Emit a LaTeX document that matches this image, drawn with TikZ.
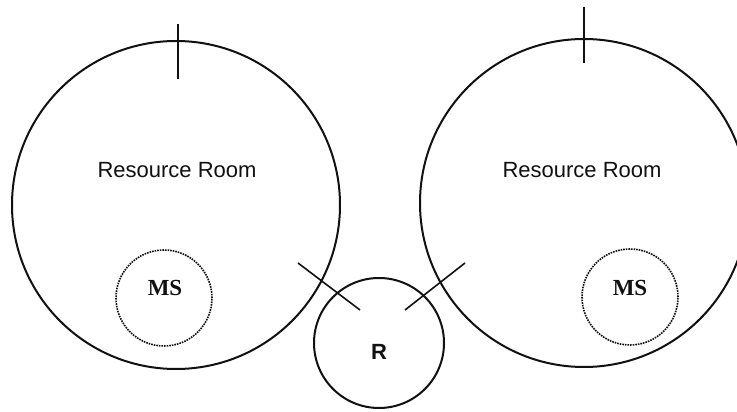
\documentclass[tikz,border=0pt]{standalone}
\usepackage{fontspec}
\setmainfont{Liberation Serif}
\setsansfont{Liberation Sans}
\usepackage{xcolor}
\definecolor{ink}{HTML}{111111}

\tikzset{
  roomcircle/.style={circle,draw=ink,line width=2pt,minimum size=328pt,inner sep=0pt},
  mscircle/.style={circle,draw=ink,line width=1.6pt,densely dotted,minimum size=96pt,inner sep=0pt},
  rcircle/.style={circle,draw=ink,line width=2pt,minimum size=130pt,inner sep=0pt},
  roomtext/.style={ink,font=\sffamily\fontsize{22}{26}\selectfont},
  mstext/.style={ink,font=\rmfamily\bfseries\fontsize{23}{27}\selectfont},
  rtext/.style={ink,font=\sffamily\bfseries\fontsize{22}{26}\selectfont},
  doormark/.style={ink,line width=1.6pt}
}

\begin{document}
\begin{tikzpicture}[x=1pt,y=1pt]
  % Frame (picture size)
  \clip (0,0) rectangle (737,412);
  \fill[white] (0,0) rectangle (737,412);

  % Left resource room
  \node[roomcircle] (roomL) at (176,207) {};
  \node[roomtext] (roomLtext) at (177,242) {Resource Room};
  \node[mscircle] (msL) at (164,114) {};
  \node[mstext] (msLtext) at (165,124) {MS};

  % Right resource room
  \node[roomcircle] (roomR) at (584,209) {};
  \node[roomtext] (roomRtext) at (582,242) {Resource Room};
  \node[mscircle] (msR) at (630,115) {};
  \node[mstext] (msRtext) at (630,124) {MS};

  % Regular classroom between them
  \node[rcircle] (res) at (379,69) {};
  \node[rtext] (restext) at (379,60) {R};

  % Door marks
  \coordinate (tickLa) at (178,388);
  \coordinate (tickLb) at (178,333);
  \coordinate (tickRa) at (584,405);
  \coordinate (tickRb) at (584,349);
  \coordinate (doorLa) at (298,149);
  \coordinate (doorLb) at (360,102);
  \coordinate (doorRa) at (405,102);
  \coordinate (doorRb) at (465,149);
  \draw[doormark] (tickLa) -- (tickLb);
  \draw[doormark] (tickRa) -- (tickRb);
  \draw[doormark] (doorLa) -- (doorLb);
  \draw[doormark] (doorRa) -- (doorRb);
\end{tikzpicture}
\end{document}
